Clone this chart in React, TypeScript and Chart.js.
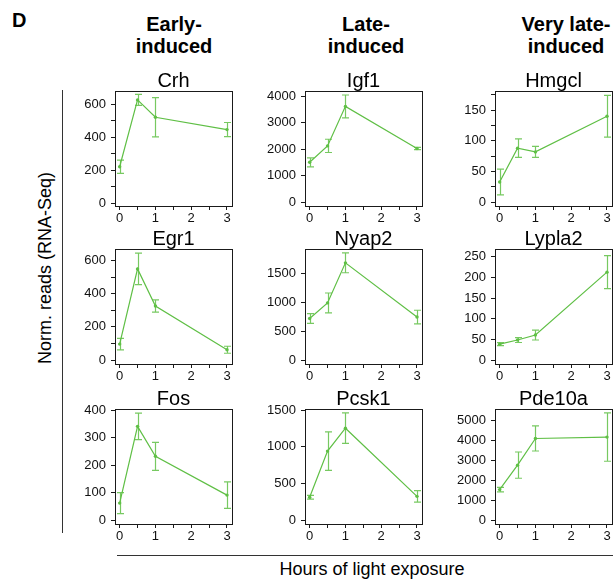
import React, { useEffect, useRef } from 'react';
import { Chart, registerables } from 'chart.js';

Chart.register(...registerables);

// ---------- data ----------
const hours = [0, 0.5, 1, 3];
const xTickValues = [0, 0.5, 1, 1.5, 2, 2.5, 3];

const groupLabels = ['Early-\ninduced', 'Late-\ninduced', 'Very late-\ninduced'];
const geneNames = ['Crh', 'Igf1', 'Hmgcl', 'Egr1', 'Nyap2', 'Lypla2', 'Fos', 'Pcsk1', 'Pde10a'];

const crhMean = [220, 625, 520, 445];
const crhErr = [40, 33, 119, 43];
const igf1Mean = [1510, 2130, 3620, 2030];
const igf1Err = [170, 250, 430, 40];
const hmgclMean = [33, 88, 82, 140];
const hmgclErr = [21, 15, 9, 34];

const egr1Mean = [96, 550, 326, 62];
const egr1Err = [35, 95, 37, 21];
const nyap2Mean = [720, 990, 1685, 745];
const nyap2Err = [85, 172, 172, 118];
const lypla2Mean = [39, 49, 61, 213];
const lypla2Err = [3.5, 6, 12, 40];

const fosMean = [62, 341, 232, 91];
const fosErr = [38, 48, 51, 48];
const pcsk1Mean = [310, 940, 1252, 323];
const pcsk1Err = [25, 262, 208, 79];
const pde10aMean = [1530, 2760, 4100, 4170];
const pde10aErr = [110, 660, 630, 1215];

// axis ranges and ticks
const crhRange = [-18, 679];
const crhTicks = [0, 200, 400, 600];
const crhMinor = [100, 300, 500];
const igf1Range = [-138, 4200];
const igf1Ticks = [0, 1000, 2000, 3000, 4000];
const hmgclRange = [-6, 181];
const hmgclTicks = [0, 50, 100, 150];
const hmgclMinor = [25, 75, 125, 175];
const egr1Range = [-24, 670];
const egr1Ticks = [0, 200, 400, 600];
const egr1Minor = [100, 300, 500];
const nyap2Range = [-69, 1925];
const nyap2Ticks = [0, 500, 1000, 1500];
const lypla2Range = [-9, 269];
const lypla2Ticks = [0, 50, 100, 150, 200, 250];
const fosRange = [-14, 404];
const fosTicks = [0, 100, 200, 300, 400];
const pcsk1Range = [-54, 1514];
const pcsk1Ticks = [0, 500, 1000, 1500];
const pde10aRange = [-200, 5583];
const pde10aTicks = [0, 1000, 2000, 3000, 4000, 5000];

const xRange = [-0.13, 3.14];

const panels = [
  { name: geneNames[0], mean: crhMean, err: crhErr, range: crhRange, ticks: crhTicks, minor: crhMinor },
  { name: geneNames[1], mean: igf1Mean, err: igf1Err, range: igf1Range, ticks: igf1Ticks, minor: [] as number[] },
  { name: geneNames[2], mean: hmgclMean, err: hmgclErr, range: hmgclRange, ticks: hmgclTicks, minor: hmgclMinor },
  { name: geneNames[3], mean: egr1Mean, err: egr1Err, range: egr1Range, ticks: egr1Ticks, minor: egr1Minor },
  { name: geneNames[4], mean: nyap2Mean, err: nyap2Err, range: nyap2Range, ticks: nyap2Ticks, minor: [] as number[] },
  { name: geneNames[5], mean: lypla2Mean, err: lypla2Err, range: lypla2Range, ticks: lypla2Ticks, minor: [] as number[] },
  { name: geneNames[6], mean: fosMean, err: fosErr, range: fosRange, ticks: fosTicks, minor: [] as number[] },
  { name: geneNames[7], mean: pcsk1Mean, err: pcsk1Err, range: pcsk1Range, ticks: pcsk1Ticks, minor: [] as number[] },
  { name: geneNames[8], mean: pde10aMean, err: pde10aErr, range: pde10aRange, ticks: pde10aTicks, minor: [] as number[] },
];

// ---------- layout ----------
const FONT = "'Liberation Sans', Arial, Helvetica, sans-serif";
const GREEN = '#5fbf45';
const ERR_GREEN = 'rgba(95,191,69,0.85)';
const COL_LEFT = [115, 305, 495];
const ROW_TOP = [91, 249, 409];
const AREA_W = 117;
const AREA_H = 115;
const Y_W = 55;
const TITLE_H = 24;
const X_H = 26;
const PAD_R = 6;

Chart.defaults.font.family = FONT;
Chart.defaults.color = '#111';

const boxAndErrors = {
  id: 'boxAndErrors',
  afterDatasetsDraw(chart: any, _args: any, opts: any) {
    const { ctx, chartArea, scales } = chart;
    const xs = scales.x;
    const ys = scales.y;
    ctx.save();
    // error bars
    ctx.strokeStyle = ERR_GREEN;
    ctx.lineWidth = 1.2;
    const mean: number[] = opts.mean || [];
    const err: number[] = opts.err || [];
    for (let i = 0; i < mean.length; i++) {
      const px = Math.round(xs.getPixelForValue(hours[i])) + 0.5;
      const yt = ys.getPixelForValue(mean[i] + err[i]);
      const yb = ys.getPixelForValue(mean[i] - err[i]);
      ctx.beginPath();
      ctx.moveTo(px, yt);
      ctx.lineTo(px, yb);
      ctx.moveTo(px - 3.5, yt);
      ctx.lineTo(px + 3.5, yt);
      ctx.moveTo(px - 3.5, yb);
      ctx.lineTo(px + 3.5, yb);
      ctx.stroke();
    }
    // box
    ctx.strokeStyle = '#1a1a1a';
    ctx.lineWidth = 1;
    ctx.strokeRect(
      Math.round(chartArea.left) + 0.5,
      Math.round(chartArea.top) + 0.5,
      Math.round(chartArea.right - chartArea.left),
      Math.round(chartArea.bottom - chartArea.top)
    );
    ctx.restore();
  },
};

function Panel({ p, left, top }: { p: any; left: number; top: number }) {
  const ref = useRef<HTMLCanvasElement | null>(null);
  const W = Y_W + AREA_W + PAD_R;
  const H = TITLE_H + AREA_H + X_H;
  useEffect(() => {
    if (!ref.current) return;
    const yTickList = [...p.ticks, ...p.minor].sort((a: number, b: number) => a - b);
    const chart = new Chart(ref.current, {
      type: 'line',
      data: {
        datasets: [
          {
            data: hours.map((h, i) => ({ x: h, y: p.mean[i] })),
            borderColor: GREEN,
            backgroundColor: GREEN,
            borderWidth: 1.2,
            pointRadius: 1.7,
            pointBorderWidth: 0,
            pointBackgroundColor: GREEN,
            tension: 0,
            fill: false,
          },
        ],
      },
      options: {
        animation: false,
        responsive: false,
        events: [],
        layout: { padding: { left: 0, right: PAD_R, top: 0, bottom: 0 } },
        plugins: {
          legend: { display: false },
          tooltip: { enabled: false },
          title: {
            display: true,
            text: p.name,
            fullSize: false,
            color: '#000',
            font: { size: 20, weight: 'normal', lineHeight: 1, family: FONT },
            padding: { top: 4, bottom: 0 },
          },
          boxAndErrors: { mean: p.mean, err: p.err },
        } as any,
        scales: {
          x: {
            type: 'linear',
            min: xRange[0],
            max: xRange[1],
            afterBuildTicks: (s: any) => {
              s.ticks = xTickValues.map((v) => ({ value: v }));
            },
            afterFit: (s: any) => {
              s.height = X_H;
              s.paddingLeft = 0;
              s.paddingRight = 0;
            },
            ticks: {
              autoSkip: false,
              maxRotation: 0,
              minRotation: 0,
              padding: 1,
              color: '#111',
              font: { size: 13 },
              callback: (v: any) => (Number.isInteger(Number(v)) ? String(v) : ''),
            },
            grid: { drawOnChartArea: false, drawTicks: true, tickLength: 4, color: '#1a1a1a', lineWidth: 1 },
            border: { display: false },
          },
          y: {
            type: 'linear',
            min: p.range[0],
            max: p.range[1],
            afterBuildTicks: (s: any) => {
              s.ticks = yTickList.map((v: number) => ({ value: v }));
            },
            afterFit: (s: any) => {
              s.width = Y_W;
              s.paddingTop = 0;
              s.paddingBottom = 0;
            },
            ticks: {
              autoSkip: false,
              padding: 5,
              color: '#111',
              font: { size: 13 },
              callback: (v: any) => (p.ticks.includes(Number(v)) ? String(v) : ''),
            },
            grid: { drawOnChartArea: false, drawTicks: true, tickLength: 4, color: '#1a1a1a', lineWidth: 1 },
            border: { display: false },
          },
        } as any,
      },
      plugins: [boxAndErrors],
    });
    return () => chart.destroy();
  }, [p]);
  return (
    <canvas
      ref={ref}
      width={W}
      height={H}
      style={{ position: 'absolute', left: left - Y_W, top: top - TITLE_H, width: W, height: H }}
    />
  );
}

const headerCenters = [174, 366, 566];

export default function App() {
  return (
    <div
      style={{
        position: 'absolute',
        left: 0,
        top: 0,
        width: 613,
        height: 582,
        overflow: 'hidden',
        background: '#fff',
        fontFamily: FONT,
        color: '#000',
      }}
    >
      <div style={{ position: 'absolute', left: 12, top: 10, fontSize: 20, lineHeight: '20px', fontWeight: 'bold' }}>D</div>
      {groupLabels.map((g, i) => (
        <div
          key={g}
          style={{
            position: 'absolute',
            left: headerCenters[i] - 80,
            width: 160,
            top: 14.3,
            textAlign: 'center',
            fontSize: 20,
            lineHeight: '21.5px',
            fontWeight: 'bold',
            whiteSpace: 'pre',
          }}
        >
          {g}
        </div>
      ))}
      <div
        style={{
          position: 'absolute',
          left: 45 - 150,
          top: 268 - 10,
          width: 300,
          height: 20,
          lineHeight: '20px',
          fontSize: 18,
          textAlign: 'center',
          transform: 'rotate(-90deg)',
          transformOrigin: '50% 50%',
          whiteSpace: 'nowrap',
        }}
      >
        Norm. reads (RNA-Seq)
      </div>
      <div style={{ position: 'absolute', left: 62, top: 90, width: 1.3, height: 443, background: '#333' }} />
      <div style={{ position: 'absolute', left: 117, top: 555, width: 496, height: 1.3, background: '#333' }} />
      <div
        style={{
          position: 'absolute',
          left: 372 - 150,
          width: 300,
          top: 575 - 16.2,
          fontSize: 18,
          lineHeight: '20px',
          textAlign: 'center',
          whiteSpace: 'nowrap',
        }}
      >
        Hours of light exposure
      </div>
      {panels.map((p, i) => (
        <Panel key={p.name} p={p} left={COL_LEFT[i % 3]} top={ROW_TOP[Math.floor(i / 3)]} />
      ))}
    </div>
  );
}
